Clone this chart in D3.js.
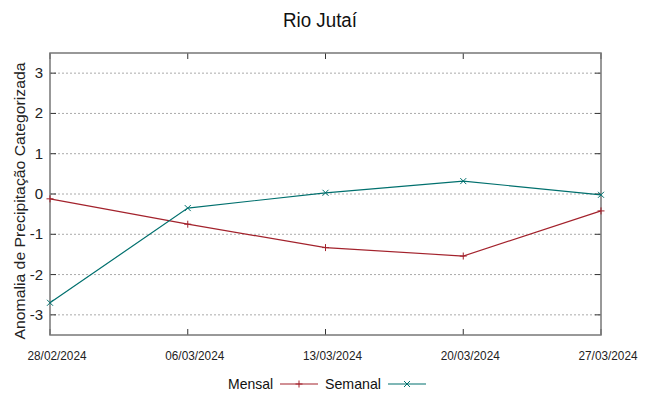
<!DOCTYPE html>
<html>
<head>
<meta charset="utf-8">
<script src="https://cdn.jsdelivr.net/npm/d3@7"></script>
<style>
  body { margin: 0; background: #fff; }
  svg { font-family: "Liberation Sans", Arial, sans-serif; }
</style>
</head>
<body>
<div id="chart"></div>
<script>
// data
var dates = ["28/02/2024", "06/03/2024", "13/03/2024", "20/03/2024", "27/03/2024"];
var mensal = [-0.12, -0.75, -1.33, -1.54, -0.42];
var semanal = [-2.70, -0.35, 0.03, 0.32, -0.02];
var yTicks = [-3, -2, -1, 0, 1, 2, 3];

var width = 649, height = 396;
var margin = {left: 50, right: 48, top: 53, bottom: 61};

var parse = d3.timeParse("%d/%m/%Y");

var svg = d3.select("#chart").append("svg")
  .attr("width", width)
  .attr("height", height);

var x = d3.scaleTime()
  .domain([parse(dates[0]), parse(dates[dates.length - 1])])
  .range([margin.left, width - margin.right]);

var y = d3.scaleLinear()
  .domain([-3.5, 3.5])
  .range([height - margin.bottom, margin.top]);

// grid
svg.append("g").selectAll("line")
  .data(yTicks)
  .enter().append("line")
  .attr("x1", margin.left).attr("x2", width - margin.right)
  .attr("y1", d => y(d)).attr("y2", d => y(d))
  .attr("stroke", "#aaa")
  .attr("stroke-width", 1)
  .attr("stroke-dasharray", "2,2");

// ticks (inside, mirrored)
var tk = svg.append("g").attr("stroke", "#333").attr("stroke-width", 1);
yTicks.forEach(function(d){
  tk.append("line").attr("x1", margin.left).attr("x2", margin.left + 6).attr("y1", y(d)).attr("y2", y(d));
  tk.append("line").attr("x1", width - margin.right).attr("x2", width - margin.right - 6).attr("y1", y(d)).attr("y2", y(d));
});
dates.forEach(function(d){
  var px = x(parse(d));
  tk.append("line").attr("x1", px).attr("x2", px).attr("y1", height - margin.bottom).attr("y2", height - margin.bottom - 6);
  tk.append("line").attr("x1", px).attr("x2", px).attr("y1", margin.top).attr("y2", margin.top + 6);
});

// border
svg.append("rect")
  .attr("x", margin.left).attr("y", margin.top)
  .attr("width", width - margin.left - margin.right)
  .attr("height", height - margin.top - margin.bottom)
  .attr("fill", "none")
  .attr("stroke", "#777")
  .attr("stroke-width", 1.5);

// tick labels
svg.append("g").selectAll("text")
  .data(yTicks)
  .enter().append("text")
  .attr("x", margin.left - 7)
  .attr("y", d => y(d) + 5)
  .attr("text-anchor", "end")
  .style("font-size", "15px")
  .attr("fill", "#222")
  .text(d => d);

svg.append("g").selectAll("text")
  .data(dates)
  .enter().append("text")
  .attr("x", d => x(parse(d)) + 7)
  .attr("y", height - margin.bottom + 25)
  .attr("text-anchor", "middle")
  .style("font-size", "12px")
  .attr("textLength", 59)
  .attr("lengthAdjust", "spacingAndGlyphs")
  .attr("fill", "#222")
  .text(d => d);

// titles
svg.append("text")
  .attr("x", 320).attr("y", 27)
  .attr("text-anchor", "middle")
  .style("font-size", "20px")
  .attr("textLength", 74)
  .attr("lengthAdjust", "spacingAndGlyphs")
  .attr("fill", "#111")
  .text("Rio Jutaí");

svg.append("text")
  .attr("transform", "translate(25,201) rotate(-90)")
  .attr("text-anchor", "middle")
  .style("font-size", "15.5px")
  .attr("textLength", 277)
  .attr("lengthAdjust", "spacingAndGlyphs")
  .attr("fill", "#222")
  .text("Anomalia de Precipitação Categorizada");

// series
var series = [
  {name: "Mensal", values: mensal, color: "#a3222c", mark: "plus"},
  {name: "Semanal", values: semanal, color: "#00706e", mark: "cross"}
];

var line = d3.line()
  .x((d, i) => x(parse(dates[i])))
  .y(d => y(d));

function drawMark(g, cx, cy, mark, color){
  var s = 3.5;
  if(mark === "plus"){
    g.append("path").attr("d", `M${cx - s},${cy}H${cx + s}M${cx},${cy - s}V${cy + s}`)
      .attr("stroke", color).attr("stroke-width", 1).attr("fill", "none");
  }else{
    s = 3;
    g.append("path").attr("d", `M${cx - s},${cy - s}L${cx + s},${cy + s}M${cx - s},${cy + s}L${cx + s},${cy - s}`)
      .attr("stroke", color).attr("stroke-width", 1).attr("fill", "none");
  }
}

series.forEach(function(s){
  svg.append("path")
    .datum(s.values)
    .attr("d", line)
    .attr("fill", "none")
    .attr("stroke", s.color)
    .attr("stroke-width", 1.2);
  var g = svg.append("g");
  s.values.forEach(function(v, i){
    drawMark(g, x(parse(dates[i])), y(v), s.mark, s.color);
  });
});

// legend
var legend = [
  {x: 273, w: 45, s: series[0]},
  {x: 381, w: 56, s: series[1]}
];
var ly = 384;
legend.forEach(function(l){
  svg.append("text")
    .attr("x", l.x).attr("y", ly + 5)
    .attr("text-anchor", "end")
    .style("font-size", "15px")
    .attr("textLength", l.w)
    .attr("lengthAdjust", "spacingAndGlyphs")
    .attr("fill", "#111")
    .text(l.s.name);
  svg.append("line")
    .attr("x1", l.x + 7).attr("x2", l.x + 45)
    .attr("y1", ly).attr("y2", ly)
    .attr("stroke", l.s.color).attr("stroke-width", 1.2);
  drawMark(svg, l.x + 26, ly, l.s.mark, l.s.color);
});
</script>
</body>
</html>
